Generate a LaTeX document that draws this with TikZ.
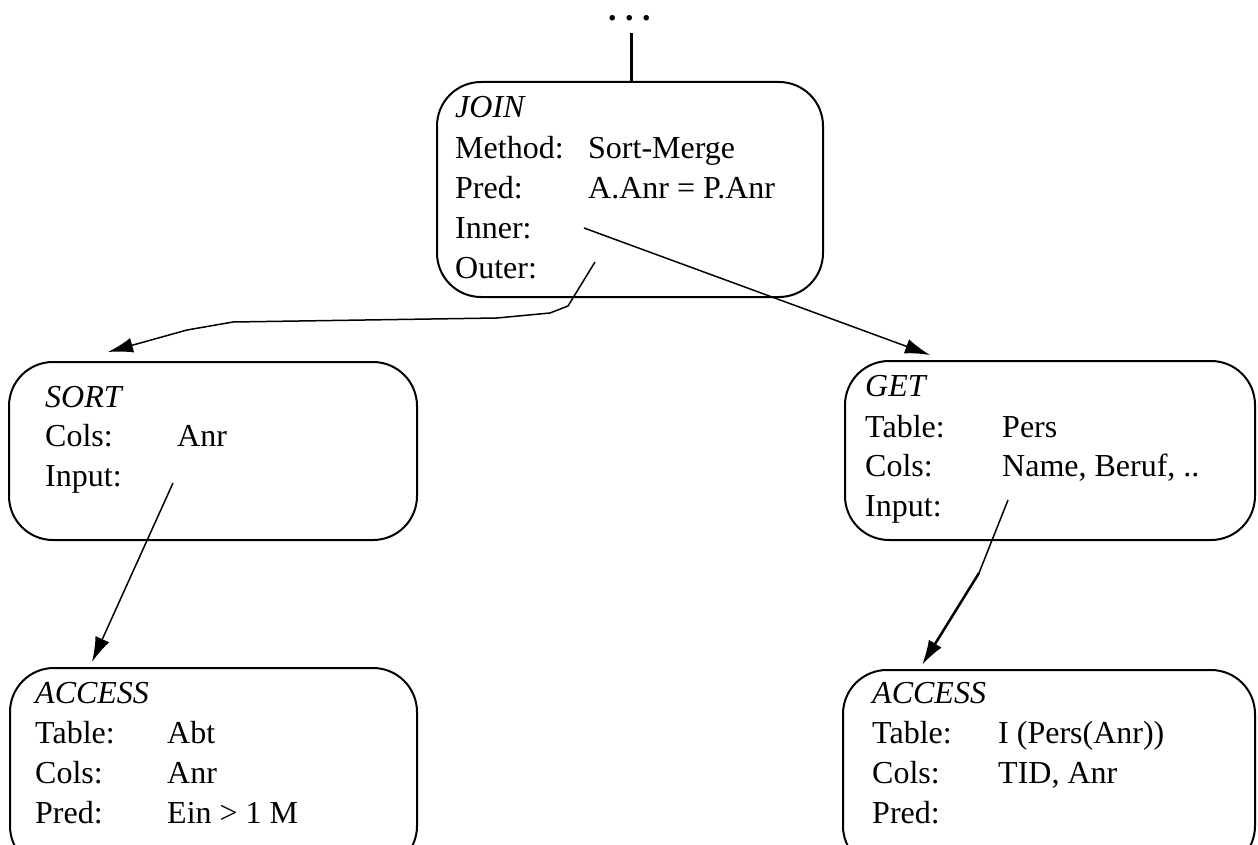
\documentclass[tikz,border=0pt]{standalone}
\usepackage{fontspec}
\setmainfont{Liberation Serif}
\usetikzlibrary{arrows.meta}
\tikzset{
  opbox/.style={draw, line width=2pt, rounded corners=44pt, inner sep=0pt},
  txt/.style={anchor=base west, inner sep=0pt, font=\fontsize{32}{38}\selectfont},
  ttl/.style={txt, font=\fontsize{32}{38}\selectfont\itshape},
  tip/.style={-{Latex[length=25pt,width=15pt]}},
  arr/.style={line width=1.5pt, tip},
}
\begin{document}
\begin{tikzpicture}[x=1pt,y=-1pt]
\useasboundingbox (0,0) rectangle (1258,845);
\clip (0,0) rectangle (1258,845);
% boxes
\node[opbox, minimum width=386pt, minimum height=215pt] (join) at (630,189.5) {};
\node[opbox, minimum width=408pt, minimum height=178pt] (sort) at (213,451) {};
\node[opbox, minimum width=410pt, minimum height=179pt] (get) at (1050,450.5) {};
\node[opbox, minimum width=407pt, minimum height=202pt] (accl) at (213.5,769) {};
\node[opbox, minimum width=412pt, minimum height=200pt] (accr) at (1049,770) {};
% dots and top line
\node[anchor=base west, inner sep=0pt, font=\fontsize{34}{34}\selectfont\bfseries] (dots) at (608,21) {.\ .\ .};
\coordinate (topend) at (631,33);
\draw[line width=3pt] (topend) -- (topend |- join.north);
% JOIN texts
\node[ttl] (jt) at (455,118) {JOIN};
\node[txt] (jm) at (455,159) {Method:};
\node[txt] (jmv) at (588,159) {Sort-Merge};
\node[txt] (jp) at (455,199) {Pred:};
\node[txt] (jpv) at (588,199) {A.Anr = P.Anr};
\node[txt] (ji) at (455,238) {Inner:};
\node[txt] (jo) at (455,278) {Outer:};
% SORT texts
\node[ttl] (st) at (45,407) {SORT};
\node[txt] (sc) at (45,446) {Cols:};
\node[txt] (scv) at (177,446) {Anr};
\node[txt] (si) at (45,486) {Input:};
% GET texts
\node[ttl] (gt) at (865,396) {GET};
\node[txt] (gtab) at (865,437) {Table:};
\node[txt] (gtabv) at (1002,437) {Pers};
\node[txt] (gc) at (865,476) {Cols:};
\node[txt] (gcv) at (1002,476) {Name, Beruf, ..};
\node[txt] (gi) at (865,516) {Input:};
% ACCESS left
\node[ttl] (alt) at (35,703) {ACCESS};
\node[txt] (altab) at (35,743) {Table:};
\node[txt] (altabv) at (167,743) {Abt};
\node[txt] (alc) at (35,783) {Cols:};
\node[txt] (alcv) at (167,783) {Anr};
\node[txt] (alp) at (35,823) {Pred:};
\node[txt] (alpv) at (167,823) {Ein > 1 M};
% ACCESS right
\node[ttl] (art) at (872,703) {ACCESS};
\node[txt] (artab) at (872,743) {Table:};
\node[txt] (artabv) at (998,743) {I (Pers(Anr))};
\node[txt] (arc) at (872,783) {Cols:};
\node[txt] (arcv) at (998,783) {TID, Anr};
\node[txt] (arp) at (872,823) {Pred:};
% connector ends
\coordinate (innerS) at (584,228);
\coordinate (getTip) at (930,355);
\coordinate (outerS) at (595,262);
\coordinate (sortTip) at (108,352);
\coordinate (sortS) at (173,483);
\coordinate (acclTip) at (92,662);
\coordinate (getS) at (1008,500);
\coordinate (getBend) at (979,573);
\coordinate (accrTip) at (922,665);
% connectors
\draw[arr] (innerS) -- (getTip);
\draw[arr] (outerS) -- (568,306) -- (550,313) -- (497,318) -- (233,322) -- (187,330) -- (sortTip);
\draw[arr] (sortS) -- (acclTip);
\draw[line width=1.5pt] (getS) -- (getBend);
\draw[line width=2.5pt, tip] (getBend) -- (accrTip);
\end{tikzpicture}
\end{document}
